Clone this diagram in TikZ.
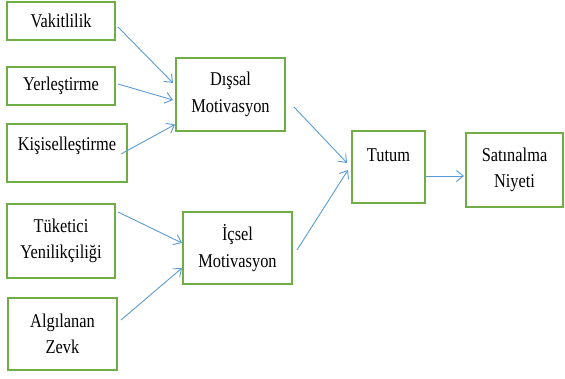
\documentclass[tikz,border=0pt]{standalone}
\usepackage{fontspec}
\setmainfont{Liberation Serif}[FakeStretch=0.84]
\usepackage{tikz}
\usetikzlibrary{arrows.meta}
\definecolor{boxgreen}{RGB}{112,173,71}
\definecolor{linkblue}{RGB}{91,155,213}

\begin{document}
\begin{tikzpicture}[
x=1pt,y=-1pt,
Box/.style={draw=boxgreen,line width=2pt,fill=white,align=center,inner sep=0pt,
  font=\fontsize{19.5}{26.5}\selectfont},
Link/.style={draw=linkblue,line width=0.9pt,-{Straight Barb[length=7pt,width=11pt]}}
]
\useasboundingbox (0,0) rectangle (565,379);

% sol taraf
\node[Box,minimum width=108,minimum height=38] (vak) at (61,21) {Vakitlilik};
\node[Box,minimum width=108,minimum height=38] (yer) at (61,86) {Yerleştirme};
\node[Box,minimum width=120,minimum height=58,text depth=18pt] (kis) at (67,153) {Kişiselleştirme};
\node[Box,minimum width=108,minimum height=74] (tuk) at (61,241) {Tüketici\\Yenilikçiliği};
\node[Box,minimum width=109,minimum height=72] (alg) at (62.5,334) {Algılanan\\Zevk};

% orta
\node[Box,minimum width=109,minimum height=73] (dis) at (230.5,94.5) {Dışsal\\Motivasyon};
\node[Box,minimum width=109,minimum height=72] (ics) at (237.5,248) {İçsel\\Motivasyon};

% sag taraf
\node[Box,minimum width=73,minimum height=72,text depth=24pt] (tut) at (388.5,167) {Tutum};
\node[Box,minimum width=97,minimum height=74] (sat) at (514.5,170) {Satınalma\\Niyeti};

\draw[Link] ([shift={(2,6)}]vak.east) -- ([shift={(-2,-11.5)}]dis.west);
\draw[Link] ([shift={(2,-2)}]yer.east) -- ([shift={(-2,5.5)}]dis.west);
\draw[Link] ([shift={(-7,1)}]kis.east) -- ([shift={(0,30)}]dis.west);
\draw[Link] ([shift={(2,-29)}]tuk.east) -- ([shift={(0,-5)}]ics.west);
\draw[Link] ([shift={(3,-14)}]alg.east) -- ([shift={(0,20)}]ics.west);
\draw[Link] ([shift={(8,12.5)}]dis.east) -- ([shift={(-4,-4)}]tut.west);
\draw[Link] ([shift={(4,2)}]ics.east) -- ([shift={(-3,3)}]tut.west);
\draw[Link] ([shift={(0,9)}]tut.east) -- ([shift={(-1,6)}]sat.west);

\end{tikzpicture}
\end{document}
